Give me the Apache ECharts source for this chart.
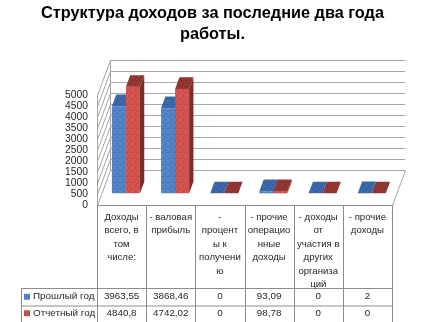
<!DOCTYPE html>
<html>
<head>
<meta charset="utf-8">
<script src="https://cdn.jsdelivr.net/npm/echarts@6/dist/echarts.min.js"></script>
<style>
  html, body { margin: 0; padding: 0; background: #fff; }
  #chart { width: 425px; height: 322px; }
</style>
</head>
<body>
<div id="chart"></div>
<script>
// Income structure over the last two years of operation
const titleText = 'Структура доходов за последние два года\nработы.';
const categories = [
  'Доходы\nвсего, в\nтом\nчисле:',
  '- валовая\nприбыль',
  '-\nпроцент\nы к\nполучени\nю',
  '- прочие\nоперацио\nнные\nдоходы',
  '- доходы\nот\nучастия в\nдругих\nорганиза\nций',
  '- прочие\nдоходы'
];
const seriesNames = ['Прошлый год', 'Отчетный год'];
const prevYear = [3963.55, 3868.46, 0, 93.09, 0, 2];
const reportYear = [4840.8, 4742.02, 0, 98.78, 0, 0];
const yMin = 0, yMax = 5000, yStep = 500;

// stippled fill: base colour with scattered lighter / darker pixels
function stipple(base, light, dark) {
  const c = document.createElement('canvas');
  c.width = 6; c.height = 6;
  const g = c.getContext('2d');
  g.fillStyle = base; g.fillRect(0, 0, 6, 6);
  g.fillStyle = light;
  [[0, 0], [4, 1], [2, 3], [5, 4], [1, 5]].forEach(p => g.fillRect(p[0], p[1], 1, 1));
  g.fillStyle = dark;
  [[3, 0], [1, 2], [5, 2], [3, 5]].forEach(p => g.fillRect(p[0], p[1], 1, 1));
  return { image: c, repeat: 'repeat' };
}

// face colours: front, top, side
const palette = [
  { front: stipple('#4f81c4', '#6190d0', '#4574b4'), top: stipple('#3a65a8', '#4672b4', '#33599a'),
    side: '#2f5690', legend: '#4f81bd' },
  { front: stipple('#d0504d', '#da625e', '#c04643'), top: stipple('#8f3532', '#9c3f3b', '#83302d'),
    side: '#7c2d2a', legend: '#c0504d' }
];

const FONT = "'Liberation Sans', Arial, sans-serif";
const TEXT_COLOR = '#262626';
const GRID_COLOR = '#a6a6a6';
const TABLE_COLOR = '#8c8c8c';
// projection of the floor depth (front plane -> back wall)
const DX = 13, DY = -35;
// table rows
const TABLE_TOP = 205, ROW1_TOP = 288, ROW2_TOP = 305.5, TABLE_BOTTOM = 323;
const LEGEND_LEFT = 21;

const fmt = v => String(v).replace('.', ',');

const ticks = [];
for (let v = yMin; v <= yMax; v += yStep) ticks.push(v);

function wallRenderer(params, api) {
  const cs = params.coordSys;
  const x0 = cs.x;
  const y = api.coord([0, api.value(1)])[1];
  const children = [{
    type: 'line',
    shape: { x1: x0 + 0.5, y1: y + 0.5, x2: x0 + DX + 0.5, y2: y + DY + 0.5 },
    style: { stroke: GRID_COLOR, lineWidth: 1 }
  }];
  if (params.dataIndex === 0) {
    const yBottom = cs.y + cs.height, yTop = cs.y;
    const xRight = cs.x + cs.width;
    children.push(
      { type: 'line', shape: { x1: x0 + 0.5, y1: yTop + 0.5, x2: x0 + 0.5, y2: yBottom + 0.5 },
        style: { stroke: GRID_COLOR, lineWidth: 1 } },
      { type: 'line', shape: { x1: x0 + DX + 0.5, y1: yTop + DY + 0.5, x2: x0 + DX + 0.5, y2: yBottom + DY + 0.5 },
        style: { stroke: GRID_COLOR, lineWidth: 1 } },
      { type: 'line', shape: { x1: xRight + 0.5, y1: yBottom + 0.5, x2: xRight + DX + 0.5, y2: yBottom + DY + 0.5 },
        style: { stroke: GRID_COLOR, lineWidth: 1 } }
    );
  }
  return { type: 'group', children };
}

function barRenderer(sIdx) {
  const col = palette[sIdx];
  return function (params, api) {
    const i = api.value(0), v = api.value(1);
    const base = api.coord([i, 0]);
    const top = api.coord([i, v]);
    const band = api.size([1, 0])[0];
    const w = band * 0.285;
    const ox = DX / 3, oy = DY / 3, dx = DX / 3, dy = DY / 3;
    const x0 = (sIdx === 0 ? base[0] - w : base[0]) + ox;
    const x1 = x0 + w;
    const by = base[1] + oy, ty = top[1] + oy;
    return {
      type: 'group',
      children: [
        { type: 'polygon', shape: { points: [[x1, ty], [x1 + dx, ty + dy], [x1 + dx, by + dy], [x1, by]] },
          style: { fill: col.side } },
        { type: 'rect', shape: { x: x0, y: ty, width: w, height: by - ty },
          style: { fill: col.front } },
        { type: 'polygon', shape: { points: [[x0, ty], [x1, ty], [x1 + dx, ty + dy], [x0 + dx, ty + dy]] },
          style: { fill: col.top } }
      ]
    };
  };
}

function tableRenderer(params, api) {
  const i = api.value(0);
  const c = api.coord([i, 0]);
  const band = api.size([1, 0])[0];
  const xl = c[0] - band / 2, xr = c[0] + band / 2;
  const ln = (x1, y1, x2, y2) => ({
    type: 'line', shape: { x1, y1, x2, y2 }, style: { stroke: TABLE_COLOR, lineWidth: 1 }
  });
  const px = x => Math.round(x) + 0.5;
  const children = [
    ln(xl, TABLE_TOP + 0.5, xr, TABLE_TOP + 0.5),
    ln(px(xr), TABLE_TOP, px(xr), TABLE_BOTTOM),
    ln(xl, ROW1_TOP + 0.5, xr, ROW1_TOP + 0.5),
    ln(xl, ROW2_TOP + 0.5, xr, ROW2_TOP + 0.5),
    { type: 'text', style: { text: categories[i], x: c[0], y: TABLE_TOP + 5.5, align: 'center',
        verticalAlign: 'top', font: '9.6px ' + FONT, lineHeight: 13.5, fill: TEXT_COLOR } },
    { type: 'text', style: { text: fmt(prevYear[i]), x: c[0], y: (ROW1_TOP + ROW2_TOP) / 2,
        align: 'center', verticalAlign: 'middle', font: '9.8px ' + FONT, fill: TEXT_COLOR } },
    { type: 'text', style: { text: fmt(reportYear[i]), x: c[0], y: (ROW2_TOP + TABLE_BOTTOM) / 2 - 1,
        align: 'center', verticalAlign: 'middle', font: '9.8px ' + FONT, fill: TEXT_COLOR } }
  ];
  if (i === 0) children.push(ln(px(xl), TABLE_TOP, px(xl), TABLE_BOTTOM));
  return { type: 'group', children };
}

const chart = echarts.init(document.getElementById('chart'), null, { renderer: 'canvas' });

const option = {
  animation: false,
  backgroundColor: '#fff',
  title: {
    text: titleText,
    left: 'center',
    top: -2,
    textStyle: { fontFamily: FONT, fontWeight: 'bold', fontSize: 16.3, lineHeight: 21, color: '#000' }
  },
  grid: [
    { left: 97, top: 95, width: 295, height: 110 },
    { left: 97 + DX, top: 95 + DY, width: 295, height: 110 }
  ],
  xAxis: [
    { type: 'category', data: categories, gridIndex: 0, show: false },
    { type: 'category', data: categories, gridIndex: 1, show: false }
  ],
  yAxis: [
    { type: 'value', gridIndex: 0, min: yMin, max: yMax, interval: yStep,
      axisLine: { show: false }, axisTick: { show: false }, splitLine: { show: false },
      axisLabel: { margin: 9, fontSize: 10.3, fontFamily: FONT, color: TEXT_COLOR,
        showMinLabel: true, showMaxLabel: true, hideOverlap: false,
        formatter: v => String(v) } },
    { type: 'value', gridIndex: 1, min: yMin, max: yMax, interval: yStep,
      axisLine: { show: false }, axisTick: { show: false }, axisLabel: { show: false },
      splitLine: { lineStyle: { color: GRID_COLOR, width: 1 } } }
  ],
  series: [
    { type: 'custom', name: 'walls', xAxisIndex: 0, yAxisIndex: 0, silent: true, z: 1,
      data: ticks.map(v => [0, v]), renderItem: wallRenderer, clip: false },
    { type: 'custom', name: seriesNames[0], xAxisIndex: 0, yAxisIndex: 0, z: 3,
      data: prevYear.map((v, i) => [i, v]), renderItem: barRenderer(0), clip: false },
    { type: 'custom', name: seriesNames[1], xAxisIndex: 0, yAxisIndex: 0, z: 4,
      data: reportYear.map((v, i) => [i, v]), renderItem: barRenderer(1), clip: false },
    { type: 'custom', name: 'table', xAxisIndex: 0, yAxisIndex: 0, silent: true, z: 5,
      data: categories.map((c, i) => [i, 0]), renderItem: tableRenderer, clip: false }
  ],
  graphic: [
    // legend column of the data table
    { type: 'line', shape: { x1: LEGEND_LEFT, y1: ROW1_TOP + 0.5, x2: 97, y2: ROW1_TOP + 0.5 }, style: { stroke: TABLE_COLOR } },
    { type: 'line', shape: { x1: LEGEND_LEFT, y1: ROW2_TOP + 0.5, x2: 97, y2: ROW2_TOP + 0.5 }, style: { stroke: TABLE_COLOR } },
    { type: 'line', shape: { x1: LEGEND_LEFT + 0.5, y1: ROW1_TOP, x2: LEGEND_LEFT + 0.5, y2: TABLE_BOTTOM }, style: { stroke: TABLE_COLOR } }
  ].concat(seriesNames.flatMap((name, k) => {
    const yc = k === 0 ? (ROW1_TOP + ROW2_TOP) / 2 : (ROW2_TOP + TABLE_BOTTOM) / 2 - 1;
    return [
      { type: 'rect', shape: { x: 24, y: yc - 3, width: 6, height: 6 }, style: { fill: palette[k].legend } },
      { type: 'text', style: { text: name, x: 33, y: yc, verticalAlign: 'middle', font: '9.9px ' + FONT, fill: TEXT_COLOR } }
    ];
  }))
};

chart.setOption(option);
</script>
</body>
</html>
